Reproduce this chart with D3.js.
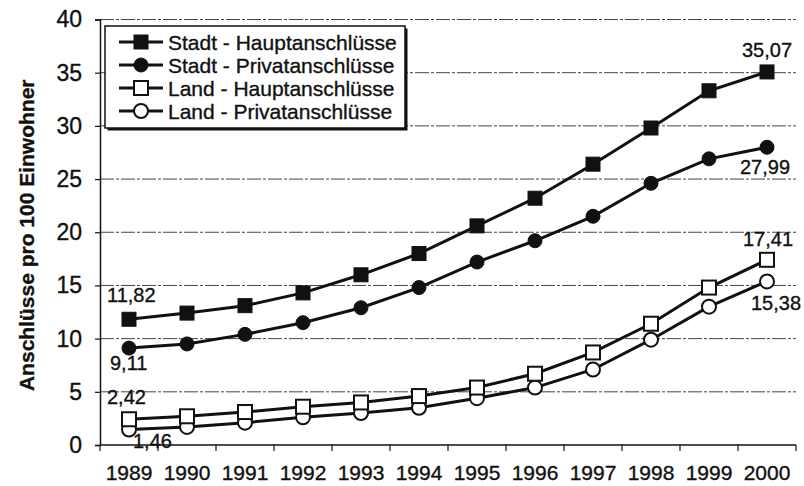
<!DOCTYPE html>
<html>
<head>
<meta charset="utf-8">
<script src="https://cdn.jsdelivr.net/npm/d3@7"></script>
<style>
  body { margin: 0; background: #fff; }
  svg { display: block; font-family: "Liberation Sans", Arial, sans-serif; }
  text { stroke: #111; stroke-width: 0.35px; }
</style>
</head>
<body>
<div id="chart"></div>
<script>
// data
var years = ["1989", "1990", "1991", "1992", "1993", "1994", "1995", "1996", "1997", "1998", "1999", "2000"];
var stadtHaupt = [11.82, 12.4, 13.1, 14.3, 16.0, 18.0, 20.6, 23.2, 26.4, 29.8, 33.3, 35.07];
var stadtPrivat = [9.11, 9.5, 10.4, 11.5, 12.9, 14.8, 17.2, 19.2, 21.5, 24.6, 26.9, 27.99];
var landHaupt = [2.42, 2.7, 3.1, 3.6, 4.0, 4.6, 5.4, 6.7, 8.7, 11.4, 14.8, 17.41];
var landPrivat = [1.46, 1.7, 2.1, 2.6, 3.0, 3.5, 4.4, 5.4, 7.1, 9.9, 13.0, 15.38];
var yTicks = [0, 5, 10, 15, 20, 25, 30, 35, 40];
var seriesNames = ["Stadt - Hauptanschlüsse", "Stadt - Privatanschlüsse", "Land - Hauptanschlüsse", "Land - Privatanschlüsse"];

var series = [
  { name: seriesNames[0], values: stadtHaupt, shape: "square", fill: "#111" },
  { name: seriesNames[1], values: stadtPrivat, shape: "circle", fill: "#111" },
  { name: seriesNames[2], values: landHaupt, shape: "square", fill: "#fff" },
  { name: seriesNames[3], values: landPrivat, shape: "circle", fill: "#fff" }
];

// end labels: [series index, year index, dx, dy]
var endLabels = [
  [0, 0, -22, -17], [1, 0, -19, 22], [2, 0, -22, -15], [3, 0, 4, 19],
  [0, 11, -25, -15], [1, 11, -27, 27], [2, 11, -24, -14], [3, 11, -16, 29]
];

var width = 804, height = 486;
var svg = d3.select("#chart").append("svg").attr("width", width).attr("height", height);

var x = d3.scaleBand().domain(years).range([100, 796]);
var y = d3.scaleLinear().domain([0, 40]).range([445, 19.5]);
var cx = function (i) { return x(years[i]) + x.bandwidth() / 2; };

// grid
svg.append("g").selectAll("line")
  .data(yTicks.filter(function (d) { return d > 0; }))
  .enter().append("line")
  .attr("x1", 100).attr("x2", 796)
  .attr("y1", function (d) { return y(d); }).attr("y2", function (d) { return y(d); })
  .attr("stroke", "#444").attr("stroke-width", 1)
  .attr("stroke-dasharray", "14,2,3,2");

// y axis
var yAxis = svg.append("g").attr("transform", "translate(100,0)")
  .call(d3.axisLeft(y).tickValues(yTicks).tickSize(5).tickPadding(13));
yAxis.select(".domain").attr("stroke", "#111").attr("stroke-width", 1.5);
yAxis.selectAll(".tick line").attr("stroke", "#111").attr("stroke-width", 1.2);
yAxis.selectAll("text").attr("font-size", 23).attr("fill", "#111")
  .attr("font-family", "Liberation Sans, Arial, sans-serif");

// x axis: ticks between categories
var xAxisG = svg.append("g").attr("transform", "translate(0," + y(0) + ")");
xAxisG.append("line").attr("x1", 100).attr("x2", 796).attr("stroke", "#111").attr("stroke-width", 1.5);
xAxisG.selectAll(".tk").data(years.concat(["end"])).enter().append("line")
  .attr("x1", function (d, i) { return 100 + i * x.bandwidth(); })
  .attr("x2", function (d, i) { return 100 + i * x.bandwidth(); })
  .attr("y1", 0).attr("y2", 6).attr("stroke", "#111").attr("stroke-width", 1.2);
xAxisG.selectAll(".lbl").data(years).enter().append("text")
  .attr("x", function (d, i) { return cx(i); })
  .attr("y", 35)
  .attr("text-anchor", "middle")
  .attr("font-size", 21).attr("fill", "#111")
  .text(function (d) { return d; });

// y title
svg.append("text")
  .attr("transform", "translate(34," + ((y(0) + y(40)) / 2 + 3) + ") rotate(-90)")
  .attr("text-anchor", "middle")
  .attr("font-size", 21).attr("font-weight", "bold").attr("fill", "#111")
  .text("Anschlüsse pro 100 Einwohner");

function drawMarker(g, shape, fill, px, py) {
  if (shape === "square") {
    g.append("rect").attr("x", px - 7).attr("y", py - 7).attr("width", 14).attr("height", 14)
      .attr("fill", fill).attr("stroke", "#111").attr("stroke-width", fill === "#fff" ? 2 : 1);
  } else {
    g.append("circle").attr("cx", px).attr("cy", py).attr("r", 7)
      .attr("fill", fill).attr("stroke", "#111").attr("stroke-width", fill === "#fff" ? 2 : 1);
  }
}

var line = d3.line().x(function (d, i) { return cx(i); }).y(function (d) { return y(d); });

// draw land first so stadt lines sit on top
series.slice().reverse().forEach(function (s) {
  var g = svg.append("g");
  g.append("path").attr("d", line(s.values))
    .attr("fill", "none").attr("stroke", "#111").attr("stroke-width", 3);
  s.values.forEach(function (v, i) {
    drawMarker(g, s.shape, s.fill, cx(i), y(v));
  });
});

// value labels
svg.append("g").selectAll("text").data(endLabels).enter().append("text")
  .attr("x", function (d) { return cx(d[1]) + d[2]; })
  .attr("y", function (d) { return y(series[d[0]].values[d[1]]) + d[3]; })
  .attr("font-size", 20).attr("fill", "#111")
  .text(function (d) { return series[d[0]].values[d[1]].toFixed(2).replace(".", ","); });

// legend
var lg = svg.append("g").attr("transform", "translate(105,26)");
lg.append("rect").attr("x", 2.5).attr("y", 2.5).attr("width", 300).attr("height", 102).attr("fill", "#111");
lg.append("rect").attr("x", 0).attr("y", 0).attr("width", 300).attr("height", 102)
  .attr("fill", "#fff").attr("stroke", "#111").attr("stroke-width", 1.5);
series.forEach(function (s, i) {
  var ry = 16 + i * 23;
  var row = lg.append("g");
  row.append("line").attr("x1", 14).attr("x2", 58).attr("y1", ry).attr("y2", ry)
    .attr("stroke", "#111").attr("stroke-width", 3);
  drawMarker(row, s.shape, s.fill, 36, ry);
  row.append("text").attr("x", 63).attr("y", ry + 7.5)
    .attr("font-size", 21).attr("fill", "#111").text(s.name);
});
</script>
</body>
</html>
